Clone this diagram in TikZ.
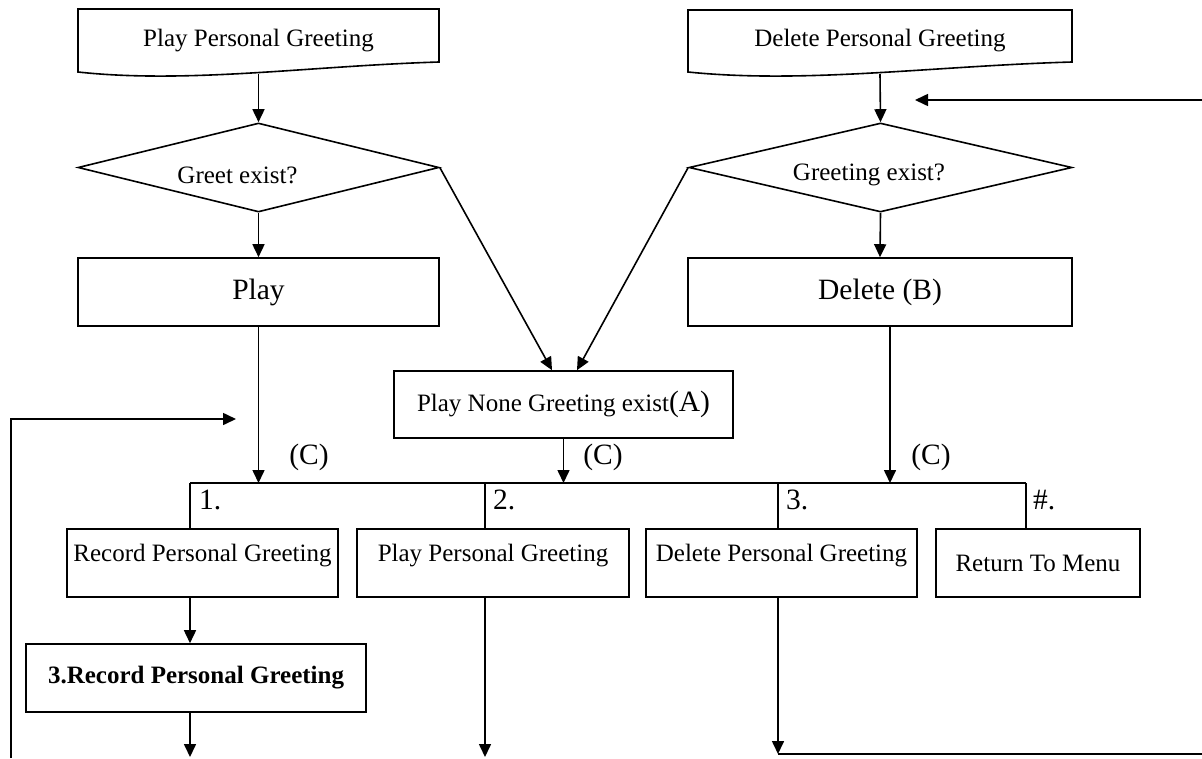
\documentclass[tikz,border=0pt]{standalone}
\usepackage{fontspec}
\setmainfont{Liberation Serif}
\usetikzlibrary{
    arrows.meta,
    shapes.geometric,
    calc,
    positioning
}
\newcommand\txtf{\fontsize{25}{30}\selectfont}
\newcommand\bigtxtf{\fontsize{29.5}{34}\selectfont}
\tikzset{
    base/.style={line width=1.6pt},
    arr/.style={base, -{Triangle[length=13pt,width=12pt]}},
    box/.style={base, draw, rectangle, font=\txtf, inner sep=2pt},
    optbox/.style={box, minimum height=68pt, text height=17pt, text depth=21pt},
    dec/.style={base, draw, diamond, minimum width=361pt, minimum height=89pt, inner sep=0pt},
    doc/.style={rectangle, font=\txtf, inner sep=0pt, outer sep=0pt},
    lbl/.style={font=\bigtxtf, inner sep=0pt}
}

\begin{document}
\begin{tikzpicture}[x=1pt,y=-1pt]
    \useasboundingbox (0,0) rectangle (1202,758);
    % top: the two menu entries
    \node[doc, minimum width=361pt, minimum height=63pt] (p1) at (258.5,40.5) {Play Personal Greeting};
    \node[doc, minimum width=384pt, minimum height=62pt] (p2) at (880,41) {Delete Personal Greeting};
    \draw[base] (p1.north west) -- (p1.north east) -- ([yshift=10pt]p1.south east)
        .. controls +(-130,4) and +(110,12) .. (p1.south west) -- cycle;
    \draw[base] (p2.north west) -- (p2.north east) -- ([yshift=10pt]p2.south east)
        .. controls +(-138,4) and +(117,12) .. (p2.south west) -- cycle;
    % checks
    \node[dec, label={[font=\txtf, xshift=-21pt, yshift=-8pt]center:Greet exist?}] (d1) at (258.5,167.5) {};
    \node[dec, minimum width=383pt, label={[font=\txtf, xshift=-11.5pt, yshift=-7.5pt]center:Greeting exist?}] (d2) at (880.5,167.5) {};
    \node[box, minimum width=361pt, minimum height=68pt, font=\bigtxtf] (play) at (258.5,292) {Play};
    \node[box, minimum width=384pt, minimum height=68pt, font=\bigtxtf] (del) at (880,292) {Delete (B)};
    \node[box, minimum width=339pt, minimum height=67pt] (none) at (563.5,404.5) {Play None Greeting exist{\bigtxtf(A)}};
    % sub menu
    \node[optbox, minimum width=271pt] (r1) at (202.5,563) {Record Personal Greeting};
    \node[optbox, minimum width=272pt] (r2) at (493,563) {Play Personal Greeting};
    \node[optbox, minimum width=271pt] (r3) at (781.5,563) {Delete Personal Greeting};
    \node[box, minimum width=204pt, minimum height=68pt] (r4) at (1038,563) {Return To Menu};
    \node[box, minimum width=340pt, minimum height=68pt, font=\bfseries\txtf] (rec) at (196,678) {3.Record Personal Greeting};
    \node[lbl] (c1) at (309,457) {(C)};
    \node[lbl] (c2) at (603,457) {(C)};
    \node[lbl] (c3) at (931,457) {(C)};
    \node[lbl, anchor=west] (k1) at (199,500) {1.};
    \node[lbl, anchor=west] (k2) at (493,500) {2.};
    \node[lbl, anchor=west] (k3) at (786,500) {3.};
    \node[lbl, anchor=west] (k4) at (1033,500) {\#.};
    \coordinate (b1) at (190,483);
    \coordinate (b2) at (485,483);
    \coordinate (b3) at (778,483);
    \coordinate (b4) at (1026,483);
    \coordinate (e1) at (190,757);
    \coordinate (e2) at (485,757);
    \coordinate (e3) at (778,754);
    \coordinate (e4) at (1202,754);
    \coordinate (f1) at (11,758);
    \coordinate (f2) at (236,419);
    \coordinate (g1) at (1202,100);
    \coordinate (g2) at (915,100);
    \draw[base]
        (b1) -- (b4)
        (b1) -- (b1 |- r1.north)
        (b2) -- (b2 |- r2.north)
        (b3) -- (b3 |- r3.north)
        (b4) -- (b4 |- r4.north)
        (e3) -- (e4);
    \draw[base]
        ([yshift=-2pt]p1.south) edge[arr] (d1.north)
        ([yshift=-2pt]p2.south) edge[arr] (d2.north)
        (d1.south) edge[arr] (play.north)
        (d2.south) edge[arr] (del.north)
        (d1.east) edge[arr] ([xshift=-11.5pt]none.north)
        (d2.west) edge[arr] ([xshift=13.5pt]none.north)
        (play.south) edge[arr] (play.south |- b1)
        (none.south) edge[arr] (none.south |- b2)
        ([xshift=10pt]del.south) edge[arr] ([xshift=10pt]del.south |- b3)
        (r1.south -| b1) edge[arr] (rec.north -| b1)
        (rec.south -| b1) edge[arr] (e1)
        (r2.south -| b2) edge[arr] (e2)
        (r3.south -| b3) edge[arr] (e3)
        (g1) edge[arr] (g2);
    \draw[arr] (f1) |- (f2);
\end{tikzpicture}
\end{document}
